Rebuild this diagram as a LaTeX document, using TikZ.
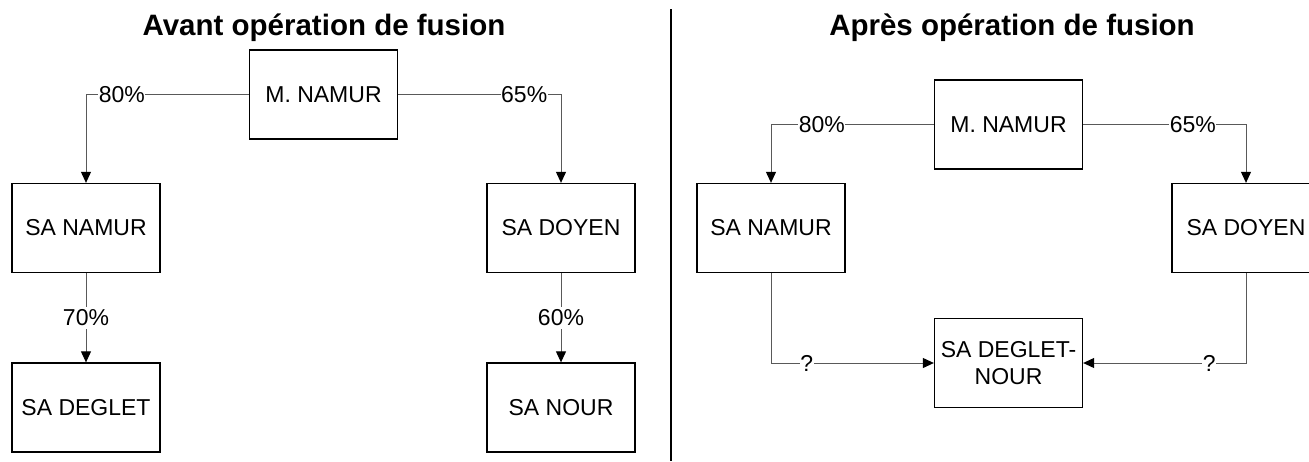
\documentclass[tikz,border=0pt]{standalone}
\usepackage{fontspec}
\setmainfont{Liberation Sans}
\usetikzlibrary{arrows.meta}
\definecolor{linegray}{HTML}{595959}
\tikzset{
  box/.style={draw=black, line width=1.3pt, minimum width=148pt, minimum height=89pt, inner sep=0pt, align=center, font=\fontsize{23}{27.5}\selectfont},
  conn/.style={draw=linegray, line width=1pt, -{Triangle[length=11pt,width=10pt,color=black]}},
  lab/.style={fill=white, inner xsep=0.5pt, inner ysep=3pt, font=\fontsize{23}{27}\selectfont},
  ttl/.style={font=\fontsize{29.5}{33}\selectfont\bfseries, anchor=base, inner sep=0pt},
}
\begin{document}
\begin{tikzpicture}[x=1pt,y=-1pt]
\useasboundingbox (0,0) rectangle (1309,461);
% titles
\node[ttl] (t1) at (324,35) {Avant opération de fusion};
\node[ttl] (t2) at (1012,35) {Après opération de fusion};
% separator
\coordinate (s1) at (671,9);
\coordinate (s2) at (671,461);
\draw[line width=2pt] (s1) -- (s2);
% left panel
\node[box] (mn1) at (323.5,94.5) {M. NAMUR};
\node[box] (sn1) at (86,228) {SA NAMUR};
\node[box] (sd1) at (561,228) {SA DOYEN};
\node[box] (sg1) at (86,407.5) {SA DEGLET};
\node[box] (so1) at (561,407.5) {SA NOUR};
\draw[conn] (mn1.west) -| node[lab,pos=0.39]{80\%} (sn1.north);
\draw[conn] (mn1.east) -| node[lab,pos=0.387]{65\%} (sd1.north);
\draw[conn] (sn1.south) -- node[lab]{70\%} (sg1.north);
\draw[conn] (sd1.south) -- node[lab]{60\%} (so1.north);
% right panel
\node[box] (mn2) at (1008.5,124.5) {M. NAMUR};
\node[box] (sn2) at (771,228) {SA NAMUR};
\node[box] (sd2) at (1246,228) {SA DOYEN};
\node[box] (sdn) at (1008.5,363) {SA DEGLET-\\NOUR};
\draw[conn] (mn2.west) -| node[lab,pos=0.344]{80\%} (sn2.north);
\draw[conn] (mn2.east) -| node[lab,pos=0.337]{65\%} (sd2.north);
\draw[conn] (sn2.south) |- node[lab,pos=0.61]{?} (sdn.west);
\draw[conn] (sd2.south) |- node[lab,pos=0.613]{?} (sdn.east);
\end{tikzpicture}
\end{document}
